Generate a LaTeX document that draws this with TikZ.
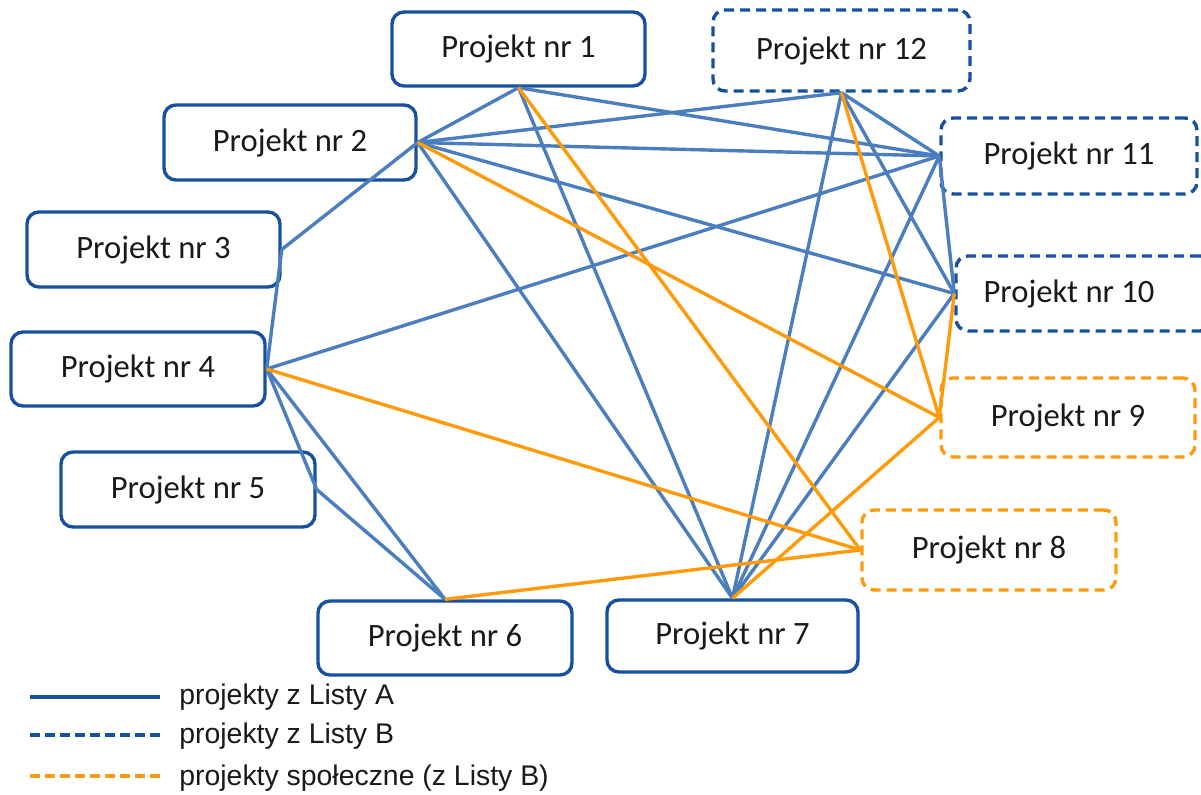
\documentclass[tikz,border=0pt]{standalone}
\usepackage{fontspec}
\setmainfont{Carlito}
\newfontfamily\legendfont{Liberation Sans}
\definecolor{boxblue}{RGB}{22,80,158}
\definecolor{linkblue}{RGB}{74,126,190}
\definecolor{orng}{RGB}{255,155,10}
\definecolor{txt}{RGB}{25,25,25}
\tikzset{
  pbox/.style={line width=1.7pt, rounded corners=6pt, inner sep=0pt,
    font=\fontsize{16.3}{19}\selectfont, text=txt},
  listA/.style={pbox, draw=boxblue},
  listB/.style={pbox, draw=boxblue, dash pattern=on 5pt off 3pt},
  social/.style={pbox, draw=orng, dash pattern=on 5pt off 3pt},
  lnkA/.style={draw=linkblue, line width=1.7pt},
  lnkS/.style={draw=orng, line width=1.7pt},
  legtxt/.style={anchor=west, inner sep=0pt, font=\legendfont\fontsize{14.2}{17}\selectfont, text=txt}
}
\begin{document}
\begin{tikzpicture}[x=0.5pt,y=-0.5pt]
\clip (0,0) rectangle (1201,794);
\useasboundingbox (0,0) rectangle (1201,794);

% project boxes
\node[listA, minimum width=126.5pt, minimum height=37pt] (p1) at (518.5,49) {Projekt nr 1};
\node[listB, minimum width=128.5pt, minimum height=40.5pt] (p12) at (841.5,50.5) {Projekt nr 12};
\node[listA, minimum width=126pt, minimum height=37.5pt] (p2) at (290,142.5) {Projekt nr 2};
\node[listB, minimum width=128pt, minimum height=38pt] (p11) at (1069,156) {Projekt nr 11};
\node[listA, minimum width=126.5pt, minimum height=37.5pt] (p3) at (153.5,249.5) {Projekt nr 3};
\node[listB, minimum width=128pt, minimum height=37.5pt,
      label={[pbox, xshift=-7.5pt]center:Projekt nr 10}] (p10) at (1084,293.5) {};
\node[social, minimum width=127pt, minimum height=39.5pt] (p9) at (1068,417.5) {Projekt nr 9};
\node[listA, minimum width=127pt, minimum height=37pt] (p4) at (138,369) {Projekt nr 4};
\node[listA, minimum width=127pt, minimum height=37.5pt] (p5) at (188,489.5) {Projekt nr 5};
\node[social, minimum width=127pt, minimum height=40pt] (p8) at (989,550) {Projekt nr 8};
\node[listA, minimum width=127pt, minimum height=37pt] (p6) at (445,638) {Projekt nr 6};
\node[listA, minimum width=125.5pt, minimum height=36pt] (p7) at (732.5,636) {Projekt nr 7};

% blue links
\draw[lnkA] (p1.south) -- (p2.east);
\draw[lnkA] (p1.south) -- (p11.west);
\draw[lnkA] (p1.south) -- (p7.north);
\draw[lnkA] (p2.east) -- (p3.east);
\draw[lnkA] (p3.east) -- (p4.east);
\draw[lnkA] (p2.east) -- (p12.south);
\draw[lnkA] (p2.east) -- (p11.west);
\draw[lnkA] (p2.east) -- (p10.west);
\draw[lnkA] (p2.east) -- (p7.north);
\draw[lnkA] (p12.south) -- (p7.north);
\draw[lnkA] (p12.south) -- (p10.west);
\draw[lnkA] (p12.south) -- (p11.west);
\draw[lnkA] (p11.west) -- (p7.north);
\draw[lnkA] (p11.west) -- (p4.east);
\draw[lnkA] (p11.west) -- (p10.west);
\draw[lnkA] (p10.west) -- (p7.north);
\draw[lnkA] (p4.east) -- (p5.east);
\draw[lnkA] (p5.east) -- (p6.north);
\draw[lnkA] (p4.east) -- (p6.north);

% orange links
\draw[lnkS] (p1.south) -- (p8.west);
\draw[lnkS] (p2.east) -- (p9.west);
\draw[lnkS] (p4.east) -- (p8.west);
\draw[lnkS] (p6.north) -- (p8.west);
\draw[lnkS] (p7.north) -- (p9.west);
\draw[lnkS] (p12.south) -- (p9.west);
\draw[lnkS] (p10.west) -- (p9.west);

% legend
\coordinate (la1) at (30,697);  \coordinate (la2) at (160,697);
\coordinate (lb1) at (30,735);  \coordinate (lb2) at (160,735);
\coordinate (lc1) at (30,776);  \coordinate (lc2) at (160,776);
\draw[draw=boxblue, line width=1.6pt] (la1) -- (la2);
\draw[draw=boxblue, line width=1.6pt, dash pattern=on 5pt off 2.5pt] (lb1) -- (lb2);
\draw[draw=orng, line width=1.6pt, dash pattern=on 5pt off 2.5pt] (lc1) -- (lc2);
\node[legtxt] (ta) at (179,697) {projekty z Listy A};
\node[legtxt] (tb) at (179,736) {projekty z Listy B};
\node[legtxt] (tc) at (179,778) {projekty społeczne (z Listy B)};
\end{tikzpicture}
\end{document}
